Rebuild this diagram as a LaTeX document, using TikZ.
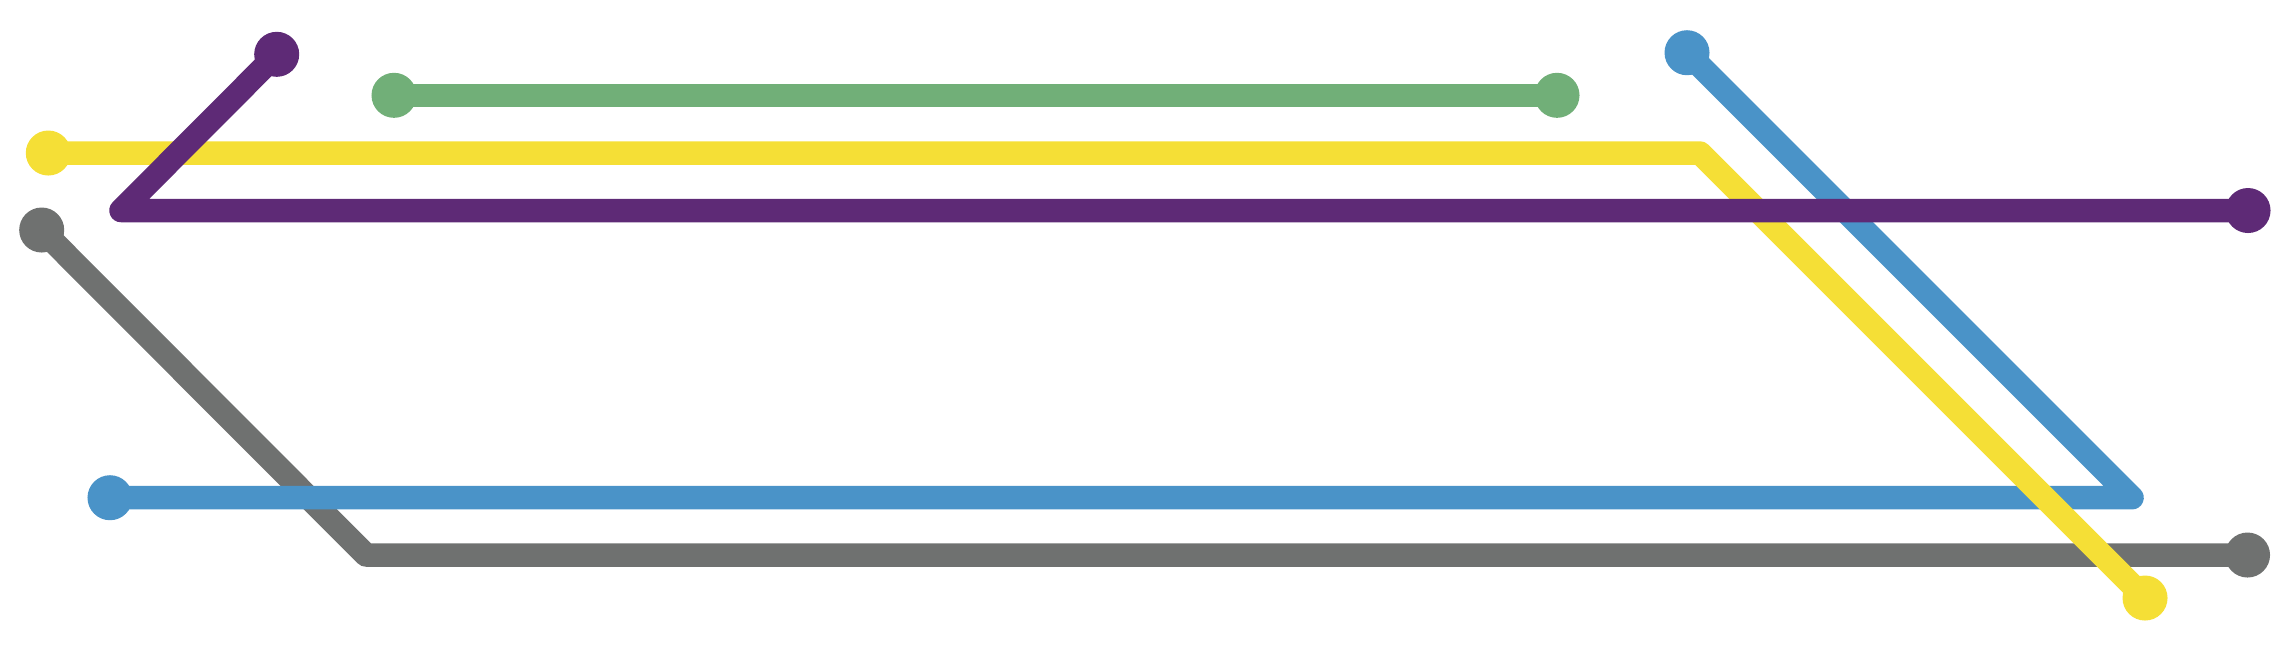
\documentclass[tikz,border=0pt]{standalone}
\definecolor{cgreen}{HTML}{71AF78}
\definecolor{cyellow}{HTML}{F5DF36}
\definecolor{cpurple}{HTML}{5E2A76}
\definecolor{cgray}{HTML}{6F7170}
\definecolor{cblue}{HTML}{4A93C8}
\tikzset{
  metro/.style={line width=0.235cm, line join=round},
  stop/.style={circle, inner sep=0pt, minimum size=0.45cm, draw=none}
}
\begin{document}
\begin{tikzpicture}[x=0.01cm,y=-0.01cm]
\useasboundingbox (0,0) rectangle (2289,647);
% coordinates
\coordinate (g1) at (394,95.3);
\coordinate (g2) at (1557,95.3);
\coordinate (y1) at (48.3,153);
\coordinate (yc) at (1700,153);
\coordinate (y2) at (2145,598);
\coordinate (p1) at (276.7,54.3);
\coordinate (pc) at (121,210.5);
\coordinate (p2) at (2248,210.5);
\coordinate (k1) at (41.7,230);
\coordinate (kc) at (366,555);
\coordinate (k2) at (2247.5,555);
\coordinate (b1) at (1687,52.7);
\coordinate (bc) at (2132,497.7);
\coordinate (b2) at (110,497.7);
% green
\draw[metro, cgreen] (g1) -- (g2);
\node[stop, fill=cgreen] (G1) at (g1) {};
\node[stop, fill=cgreen] (G2) at (g2) {};
% gray
\draw[metro, cgray] (k1) -- (kc) -- (k2);
\node[stop, fill=cgray] (K1) at (k1) {};
\node[stop, fill=cgray] (K2) at (k2) {};
% blue
\draw[metro, cblue] (b1) -- (bc) -- (b2);
\node[stop, fill=cblue] (B1) at (b1) {};
\node[stop, fill=cblue] (B2) at (b2) {};
% yellow
\draw[metro, cyellow] (y1) -- (yc) -- (y2);
\node[stop, fill=cyellow] (Y1) at (y1) {};
\node[stop, fill=cyellow] (Y2) at (y2) {};
% purple
\draw[metro, cpurple] (p1) -- (pc) -- (p2);
\node[stop, fill=cpurple] (P1) at (p1) {};
\node[stop, fill=cpurple] (P2) at (p2) {};
\end{tikzpicture}
\end{document}
